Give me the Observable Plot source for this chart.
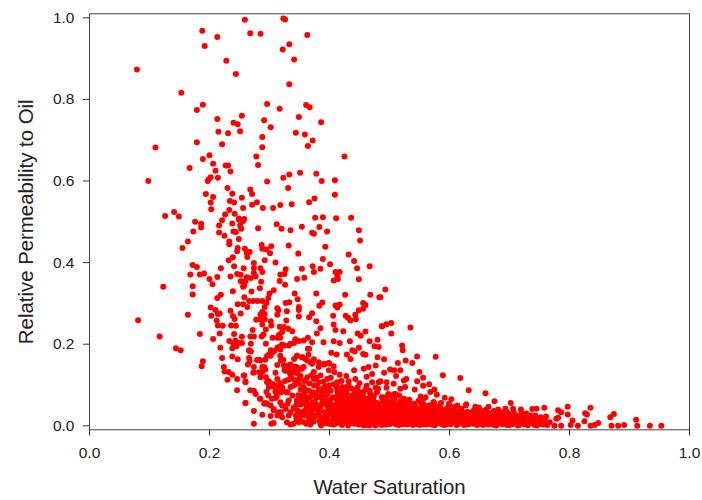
<!DOCTYPE html>
<html>
<head>
<meta charset="utf-8">
<script src="https://cdn.jsdelivr.net/npm/d3@7"></script>
<script src="https://cdn.jsdelivr.net/npm/@observablehq/plot@0.6"></script>
<style>
html,body{margin:0;padding:0;background:#fff}
svg{display:block}
</style>
</head>
<body>
<div id="chart"></div>
<script>
const xTicks = [0, 0.2, 0.4, 0.6, 0.8, 1];
const yTicks = [0, 0.2, 0.4, 0.6, 0.8, 1];
const xTitle = "Water Saturation";
const yTitle = "Relative Permeability to Oil";

// [water saturation, relative permeability to oil]
const upperCloud = [[.259,.995],[.323,.998],[.326,.996],[.188,.968],[.213,.953],[.268,.962],[.285,.961],[.363,.958],[.192,.931],[.333,.935],[.322,.922],[.341,.898],[.228,.895],[.079,.873],[.244,.862],[.333,.837],[.153,.816],[.189,.787],[.179,.774],[.296,.789],[.317,.777],[.361,.786],[.367,.781],[.254,.760],[.213,.752],[.291,.749],[.349,.757],[.386,.744],[.240,.743],[.247,.739],[.302,.732],[.215,.721],[.231,.717],[.251,.722],[.344,.718],[.359,.714],[.288,.708],[.372,.699],[.179,.695],[.221,.690],[.288,.683],[.364,.686],[.110,.682],[.200,.663],[.189,.654],[.278,.660],[.425,.660],[.206,.642],[.227,.638],[.231,.638],[.281,.639],[.167,.632],[.210,.625],[.235,.623],[.098,.600],[.197,.600],[.199,.604],[.202,.609],[.214,.608],[.296,.599],[.323,.608],[.333,.616],[.351,.620],[.378,.618],[.387,.600],[.409,.602],[.230,.583],[.268,.579],[.331,.583],[.238,.569],[.271,.568],[.194,.568],[.206,.561],[.254,.559],[.409,.566],[.202,.547],[.234,.551],[.241,.547],[.279,.548],[.375,.557],[.366,.548],[.271,.542],[.337,.543],[.318,.541],[.203,.531],[.256,.534],[.289,.534],[.306,.534],[.233,.529],[.141,.524],[.126,.514],[.149,.513],[.226,.518],[.242,.520],[.376,.510],[.389,.511],[.411,.509],[.436,.510],[.249,.508],[.258,.507],[.221,.504],[.176,.500]];

const middleCloud = [[.186,.495],[.186,.486],[.173,.476],[.238,.496],[.249,.505],[.256,.502],[.216,.491],[.251,.491],[.253,.483],[.240,.476],[.244,.475],[.216,.474],[.225,.466],[.281,.484],[.312,.494],[.320,.483],[.335,.479],[.354,.488],[.371,.473],[.374,.471],[.383,.487],[.396,.476],[.449,.479],[.451,.454],[.249,.458],[.233,.452],[.233,.445],[.164,.452],[.155,.436],[.247,.436],[.246,.428],[.259,.434],[.267,.426],[.287,.443],[.288,.434],[.303,.440],[.295,.432],[.301,.423],[.332,.442],[.393,.439],[.348,.422],[.262,.424],[.263,.414],[.239,.413],[.232,.406],[.292,.406],[.310,.400],[.389,.409],[.432,.420],[.441,.404],[.401,.396],[.446,.386],[.467,.391],[.274,.399],[.172,.394],[.179,.389],[.241,.391],[.219,.386],[.257,.386],[.274,.387],[.285,.386],[.288,.377],[.327,.384],[.354,.385],[.372,.391],[.385,.385],[.374,.377],[.168,.371],[.184,.371],[.191,.373],[.200,.360],[.213,.365],[.205,.347],[.235,.366],[.246,.372],[.252,.370],[.262,.364],[.252,.354],[.260,.355],[.269,.362],[.277,.366],[.274,.375],[.286,.353],[.318,.371],[.325,.372],[.317,.355],[.326,.346],[.346,.360],[.358,.363],[.410,.377],[.417,.377],[.413,.366],[.407,.356],[.414,.360],[.449,.359],[.123,.341],[.172,.342],[.258,.344],[.256,.341],[.284,.337],[.239,.330],[.270,.329],[.307,.332],[.172,.322],[.219,.321],[.213,.313],[.300,.324],[.342,.324],[.378,.324],[.426,.321],[.468,.321],[.483,.315],[.258,.315],[.298,.313],[.347,.310],[.266,.306],[.273,.306],[.280,.306],[.288,.306],[.295,.301],[.292,.291],[.247,.298],[.256,.298],[.263,.291],[.327,.301],[.333,.303],[.388,.302],[.383,.294],[.410,.295],[.417,.297],[.413,.290],[.456,.301],[.460,.296],[.456,.287],[.449,.283],[.349,.291],[.349,.284],[.202,.290],[.210,.284],[.313,.288],[.315,.283],[.329,.281],[.235,.282],[.288,.279],[.285,.273],[.292,.274],[.371,.276],[.214,.274],[.203,.270],[.217,.275],[.252,.275],[.239,.269],[.242,.262],[.164,.272],[.313,.272],[.349,.268],[.366,.266],[.406,.270],[.427,.270],[.443,.272],[.431,.265],[.435,.258],[.444,.261],[.278,.260],[.285,.261],[.292,.261],[.081,.259],[.212,.258],[.302,.256],[.328,.258],[.378,.256],[.303,.246],[.236,.246],[.244,.245],[.214,.246],[.222,.245],[.288,.248],[.317,.243],[.385,.239],[.407,.248],[.410,.235],[.423,.232],[.487,.244],[.272,.235],[.294,.236],[.324,.242],[.331,.238],[.338,.232],[.321,.230],[.316,.223],[.217,.226],[.184,.225],[.241,.225],[.117,.219],[.268,.219],[.274,.219],[.254,.218],[.287,.219],[.290,.224],[.379,.226],[.447,.226],[.460,.231],[.452,.221],[.206,.213],[.305,.216],[.313,.216],[.318,.216],[.364,.216],[.493,.334],[.485,.315],[.488,.244],[.495,.249],[.503,.252],[.503,.226],[.535,.241]];

const lowerCloud = [[.233,.208],[.243,.209],[.240,.201],[.249,.203],[.254,.203],[.245,.195],[.238,.190],[.269,.201],[.294,.201],[.343,.212],[.349,.208],[.357,.209],[.341,.203],[.332,.197],[.321,.199],[.371,.205],[.390,.205],[.407,.207],[.417,.203],[.434,.207],[.467,.207],[.480,.211],[.475,.195],[.482,.193],[.449,.191],[.144,.190],[.152,.185],[.218,.191],[.313,.191],[.318,.187],[.364,.189],[.266,.185],[.269,.182],[.302,.185],[.306,.181],[.299,.174],[.296,.171],[.403,.179],[.412,.175],[.429,.175],[.438,.185],[.442,.182],[.456,.176],[.460,.174],[.480,.168],[.435,.164],[.221,.166],[.238,.170],[.247,.163],[.266,.166],[.279,.161],[.285,.160],[.293,.162],[.267,.159],[.264,.150],[.318,.172],[.346,.172],[.354,.168],[.341,.164],[.360,.164],[.365,.174],[.323,.162],[.368,.156],[.374,.163],[.382,.156],[.391,.152],[.399,.154],[.189,.158],[.187,.146],[.313,.149],[.274,.144],[.288,.144],[.324,.148],[.332,.148],[.341,.144],[.349,.141],[.224,.144],[.225,.133],[.232,.132],[.238,.125],[.246,.115],[.257,.123],[.260,.109],[.230,.113],[.273,.130],[.288,.132],[.293,.138],[.285,.119],[.313,.115],[.310,.130],[.325,.136],[.334,.130],[.328,.144],[.343,.130],[.354,.140],[.363,.119],[.374,.132],[.385,.123],[.399,.136],[.407,.146],[.417,.125],[.441,.136],[.457,.140],[.465,.144],[.477,.148],[.471,.127],[.443,.115],[.432,.109],[.413,.107],[.396,.115],[.374,.115],[.349,.115],[.332,.113],[.299,.109],[.304,.097],[.313,.095],[.321,.089],[.341,.099],[.352,.089],[.360,.087],[.379,.099],[.388,.091],[.399,.099],[.424,.091],[.438,.091],[.460,.089],[.471,.107],[.482,.107],[.246,.087],[.268,.087],[.277,.078],[.295,.083],[.310,.083],[.327,.083],[.284,.066],[.293,.056],[.260,.056],[.310,.068],[.318,.058],[.332,.062],[.346,.062],[.363,.068],[.374,.074],[.393,.074],[.413,.074],[.429,.078],[.446,.074],[.468,.078],[.479,.082],[.307,.038],[.274,.036],[.288,.027],[.302,.024],[.316,.033],[.321,.021],[.332,.025],[.346,.038],[.354,.025],[.368,.046],[.379,.025],[.393,.033],[.407,.050],[.424,.058],[.441,.046],[.457,.054],[.474,.050],[.274,.005],[.303,.005],[.307,.007],[.329,.009],[.335,.003],[.361,.005],[.386,.001],[.399,.005],[.410,.005],[.421,.002],[.431,.001],[.446,.005],[.463,.002],[.477,.001]];

const rightTail = [[.521,.197],[.522,.185],[.546,.170],[.577,.169],[.491,.163],[.527,.160],[.514,.154],[.538,.154],[.501,.138],[.508,.136],[.518,.136],[.550,.132],[.491,.130],[.511,.122],[.589,.124],[.618,.117],[.556,.118],[.528,.115],[.524,.111],[.546,.109],[.485,.109],[.495,.107],[.507,.103],[.566,.102],[.556,.098],[.526,.095],[.495,.093],[.481,.091],[.542,.089],[.575,.089],[.568,.083],[.632,.087],[.660,.080],[.579,.076],[.518,.091],[.552,.072],[.560,.070],[.592,.069],[.487,.070],[.502,.074],[.510,.078],[.524,.065],[.603,.065],[.675,.060],[.702,.056],[.573,.058],[.586,.056],[.613,.050],[.628,.053],[.599,.054],[.643,.047],[.649,.045],[.665,.047],[.681,.040],[.693,.042],[.706,.042],[.719,.040],[.738,.041],[.745,.042],[.758,.044],[.781,.038],[.786,.033],[.797,.047],[.797,.028],[.826,.031],[.835,.044],[.829,.028],[.874,.029],[.868,.021],[.778,.017],[.781,.020],[.805,.013],[.761,.023],[.825,.011],[.848,.007],[.842,.002],[.835,.000],[.814,.000],[.802,.002],[.786,.000],[.775,.000],[.767,.009],[.870,.000],[.881,.000],[.891,.002],[.911,.015],[.913,.000],[.934,.000],[.953,.000],[.743,.025],[.735,.025],[.707,.033]];

const denseBand = [[.352,.052],[.358,.036],[.366,.017],[.372,.058],[.376,.041],[.383,.012],[.387,.054],[.390,.083],[.394,.019],[.397,.047],[.401,.064],[.404,.028],[.408,.014],[.411,.041],[.415,.062],[.418,.025],[.421,.081],[.424,.036],[.427,.012],[.430,.052],[.433,.070],[.436,.020],[.438,.040],[.441,.008],[.443,.060],[.446,.030],[.449,.048],[.451,.082],[.453,.015],[.455,.035],[.458,.068],[.460,.023],[.462,.046],[.465,.009],[.467,.059],[.469,.030],[.472,.017],[.474,.073],[.476,.038],[.478,.006],[.480,.056],[.482,.024],[.484,.043],[.486,.012],[.488,.031],[.490,.061],[.491,.004],[.493,.021],[.495,.048],[.497,.033],[.498,.078],[.500,.012],[.502,.056],[.503,.026],[.505,.041],[.507,.006],[.508,.066],[.510,.018],[.512,.034],[.513,.050],[.515,.010],[.517,.027],[.518,.060],[.520,.042],[.522,.004],[.523,.019],[.525,.035],[.527,.053],[.528,.012],[.530,.025],[.532,.008],[.534,.042],[.535,.020],[.537,.031],[.539,.002],[.541,.014],[.543,.048],[.544,.026],[.546,.038],[.548,.008],[.550,.019],[.552,.056],[.554,.030],[.556,.003],[.558,.044],[.560,.014],[.562,.024],[.564,.036],[.566,.006],[.568,.050],[.570,.018],[.572,.029],[.574,.040],[.576,.002],[.578,.012],[.580,.023],[.582,.034],[.584,.046],[.586,.007],[.588,.016],[.590,.028],[.592,.038],[.594,.003],[.596,.020],[.598,.011],[.600,.031],[.602,.044],[.604,.006],[.606,.017],[.608,.025],[.610,.036],[.612,.002],[.614,.012],[.616,.022],[.618,.031],[.620,.041],[.622,.007],[.624,.016],[.626,.026],[.628,.003],[.630,.034],[.632,.012],[.634,.021],[.636,.028],[.638,.005],[.640,.037],[.642,.015],[.644,.024],[.646,.002],[.648,.010],[.650,.031],[.652,.018],[.654,.004],[.656,.026],[.658,.011],[.660,.039],[.662,.020],[.664,.003],[.666,.030],[.668,.013],[.670,.023],[.672,.006],[.674,.036],[.676,.017],[.678,.001],[.680,.027],[.682,.010],[.684,.020],[.686,.033],[.688,.004],[.690,.014],[.692,.026],[.694,.007],[.696,.034],[.698,.018],[.700,.002],[.702,.012],[.704,.022],[.706,.005],[.708,.016],[.711,.025],[.714,.001],[.716,.011],[.719,.020],[.722,.006],[.725,.015],[.728,.030],[.731,.002],[.734,.012],[.737,.020],[.740,.005],[.743,.014],[.746,.001],[.749,.010],[.752,.021],[.756,.003],[.759,.012],[.763,.002],[.340,.005],[.345,.016],[.348,.075],[.356,.010],[.362,.044],[.368,.003],[.370,.030],[.378,.068],[.381,.032],[.392,.006],[.396,.086],[.400,.036],[.406,.003],[.412,.094],[.416,.011],[.420,.050],[.425,.022],[.429,.096],[.432,.034],[.437,.007],[.440,.075],[.444,.018],[.448,.064],[.452,.040],[.456,.006],[.459,.052],[.463,.029],[.466,.014],[.470,.046],[.473,.003],[.475,.024],[.479,.034],[.483,.015],[.487,.002],[.489,.049],[.492,.037],[.494,.010],[.496,.061],[.499,.028],[.501,.042],[.504,.016],[.506,.052],[.509,.035],[.511,.003],[.514,.022],[.516,.044],[.519,.012],[.521,.030],[.524,.052],[.526,.004],[.529,.038],[.531,.018],[.533,.064],[.536,.009],[.538,.028],[.540,.046],[.542,.020],[.545,.004],[.547,.032],[.549,.014],[.551,.042],[.553,.024],[.555,.010],[.557,.052],[.559,.033],[.561,.003],[.563,.017],[.565,.028],[.567,.040],[.569,.010],[.571,.022],[.573,.002],[.575,.033],[.577,.048],[.579,.014],[.581,.026],[.583,.006],[.585,.038],[.587,.019],[.589,.030],[.591,.002],[.593,.013],[.595,.024],[.597,.044],[.599,.006],[.601,.016],[.603,.036],[.605,.026]];

const denseCore = [[.327,.148],[.335,.150],[.344,.145],[.352,.140],[.332,.140],[.341,.134],[.347,.129],[.327,.135],[.335,.127],[.357,.144],[.296,.107],[.305,.103],[.313,.099],[.321,.095],[.299,.095],[.310,.086],[.319,.082],[.349,.103],[.357,.095],[.366,.086],[.374,.099],[.382,.107],[.391,.091],[.399,.099],[.371,.074],[.380,.070],[.388,.066],[.396,.078],[.405,.070],[.352,.074],[.360,.066],[.346,.062],[.355,.054],[.366,.050],[.377,.054],[.385,.046],[.396,.050],[.405,.041],[.335,.095],[.330,.082],[.338,.074],[.413,.086],[.421,.095],[.430,.091],[.438,.074],[.446,.066],[.455,.074],[.463,.066],[.416,.070],[.424,.074],[.432,.062],[.441,.054],[.449,.050],[.457,.054],[.466,.046],[.413,.054],[.421,.050],[.427,.041],[.435,.041],[.443,.033],[.452,.037],[.460,.029],[.413,.033],[.421,.029],[.430,.025],[.438,.021],[.446,.017],[.455,.017],[.463,.013],[.416,.013],[.424,.009],[.432,.005],[.441,.005],[.449,.003],[.457,.001],[.466,.001],[.407,.017],[.399,.025],[.391,.033],[.402,.005],[.394,.013],[.385,.005],[.382,.025],[.374,.021],[.366,.013],[.360,.025],[.352,.033],[.344,.025],[.349,.009],[.335,.033],[.327,.041],[.319,.033],[.330,.054],[.321,.050],[.313,.025],[.302,.050],[.291,.054],[.458,.054],[.466,.045],[.474,.058],[.483,.050],[.491,.070],[.499,.074],[.508,.078],[.516,.074],[.524,.066],[.496,.058],[.505,.062],[.513,.054],[.521,.050],[.532,.058],[.541,.054],[.549,.062],[.557,.066],[.566,.050],[.574,.058],[.585,.054],[.485,.037],[.458,.033],[.469,.025],[.477,.013],[.494,.041],[.502,.033],[.510,.041],[.535,.041],[.546,.041],[.594,.041],[.607,.046],[.618,.041],[.627,.050],[.643,.041],[.652,.037],[.638,.033],[.663,.033],[.266,.184],[.308,.184],[.316,.193],[.324,.197],[.302,.172],[.335,.201],[.346,.172],[.355,.168],[.363,.160],[.371,.152],[.382,.144],[.391,.150],[.399,.153],[.366,.189],[.319,.160],[.283,.162],[.291,.144],[.283,.131],[.294,.119],[.274,.131],[.258,.123],[.260,.107],[.274,.086],[.285,.066],[.296,.054],[.307,.041],[.260,.056]];

const bottomFill = [[.362,.028],[.368,.036],[.373,.010],[.378,.047],[.384,.038],[.389,.020],[.393,.056],[.398,.012],[.403,.052],[.406,.030],[.410,.023],[.414,.046],[.417,.037],[.419,.005],[.422,.018],[.426,.060],[.428,.030],[.431,.014],[.434,.048],[.437,.030],[.439,.064],[.442,.024],[.445,.040],[.447,.009],[.450,.030],[.452,.058],[.454,.024],[.456,.044],[.459,.013],[.461,.038],[.464,.056],[.467,.022],[.468,.006],[.471,.036],[.473,.062],[.475,.012],[.477,.030],[.479,.046],[.481,.008],[.483,.036],[.485,.020],[.487,.054],[.489,.014],[.491,.030],[.492,.044],[.494,.003],[.496,.024],[.498,.040],[.500,.004],[.501,.020],[.503,.036],[.505,.008],[.506,.030],[.508,.048],[.510,.012],[.512,.022],[.514,.040],[.516,.002],[.518,.018],[.520,.034],[.522,.012],[.524,.026],[.526,.042],[.528,.020],[.530,.003],[.532,.032],[.534,.014],[.536,.046],[.538,.006],[.540,.022],[.542,.036],[.544,.010],[.546,.016],[.548,.028],[.550,.002],[.552,.036],[.554,.016],[.556,.024],[.558,.008],[.560,.040],[.562,.004],[.564,.014],[.566,.030],[.568,.022],[.570,.004],[.572,.038],[.574,.012],[.576,.024],[.578,.032],[.580,.006],[.582,.016],[.584,.026],[.586,.038],[.588,.003],[.590,.012],[.592,.022],[.594,.032],[.596,.008],[.598,.026],[.600,.016],[.602,.004],[.604,.030],[.606,.010],[.608,.020],[.610,.028],[.612,.014],[.614,.004],[.616,.034],[.618,.010],[.620,.024],[.622,.016],[.624,.002],[.626,.032],[.628,.012],[.630,.022],[.632,.004],[.634,.030],[.636,.014],[.638,.024],[.640,.008],[.642,.032],[.644,.004],[.646,.018],[.648,.026],[.650,.006],[.652,.012],[.654,.030],[.656,.002],[.658,.020],[.660,.008],[.662,.030],[.664,.014],[.666,.004],[.668,.024],[.670,.010],[.672,.030],[.674,.002],[.676,.022],[.678,.012],[.680,.004],[.682,.030],[.684,.008],[.686,.018],[.688,.026],[.690,.004],[.692,.012],[.694,.020],[.696,.002],[.698,.028],[.700,.010],[.702,.022],[.704,.004],[.706,.030],[.708,.008],[.710,.014],[.712,.022],[.714,.006],[.716,.002],[.718,.012],[.720,.030],[.722,.016],[.724,.004],[.726,.024],[.728,.010],[.730,.002],[.734,.022],[.738,.006],[.742,.002],[.746,.018],[.750,.004],[.754,.014],[.760,.004],[.340,.044],[.345,.052],[.350,.020],[.354,.064],[.358,.078],[.362,.058],[.367,.070],[.372,.082],[.377,.080],[.382,.088],[.387,.076],[.392,.096],[.397,.062],[.402,.086],[.407,.102],[.412,.064],[.417,.082],[.422,.068],[.427,.084],[.432,.098],[.437,.060],[.442,.084],[.447,.094],[.452,.068],[.457,.082],[.462,.098],[.467,.086],[.472,.066],[.477,.094],[.298,.074],[.304,.066],[.312,.072],[.318,.104],[.326,.110],[.336,.118],[.342,.112],[.352,.122],[.358,.110],[.366,.104],[.370,.124],[.378,.118],[.390,.108],[.402,.118],[.408,.132],[.420,.110],[.428,.122],[.450,.104],[.462,.120]];

const points = [...upperCloud, ...middleCloud, ...lowerCloud, ...rightTail, ...denseBand, ...denseCore, ...bottomFill];

const fontFamily = "'Liberation Sans', Arial, sans-serif";
const chart = Plot.plot({
  width: 702,
  height: 500,
  marginLeft: 89,
  marginRight: 13,
  marginTop: 13.3,
  marginBottom: 70.7,
  style: {fontFamily, background: "#fff", color: "#222", overflow: "visible"},
  x: {domain: [0, 1], ticks: xTicks},
  y: {domain: [-0.0098, 1.0098], ticks: yTicks},
  marks: [
    Plot.dot(points, {x: d => d[0], y: d => d[1], r: 3, fill: "#ff0000", stroke: "none"}),
    Plot.frame({stroke: "#444", strokeWidth: 1}),
    Plot.axisX({ticks: xTicks, tickFormat: d3.format(".1f"), tickSize: 6, tickPadding: 11, fontSize: 15.5, stroke: "#333", label: null}),
    Plot.axisY({ticks: yTicks, tickFormat: d3.format(".1f"), tickSize: 6, tickPadding: 9, fontSize: 15.5, stroke: "#333", label: null}),
    Plot.text([xTitle], {text: d => d, frameAnchor: "bottom", dy: 64, fontSize: 20.4, fill: "#222"}),
    Plot.text([yTitle], {text: d => d, frameAnchor: "left", textAnchor: "middle", rotate: -90, dx: -63, fontSize: 20.4, fill: "#222"})
  ]
});
document.getElementById("chart").appendChild(chart);
</script>
</body>
</html>
